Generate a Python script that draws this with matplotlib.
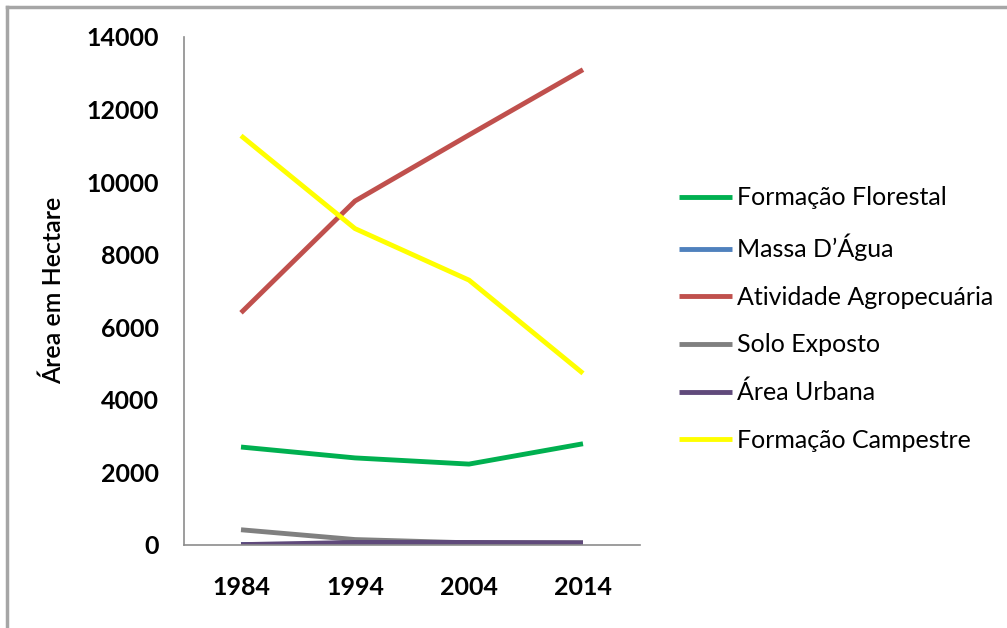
import matplotlib
matplotlib.use('Agg')
import matplotlib.pyplot as plt
from matplotlib.lines import Line2D

plt.rcParams['font.family'] = ['Lato', 'DejaVu Sans']

years = ['1984', '1994', '2004', '2014']
florestal = [2700, 2400, 2230, 2790]
massa_agua = [15, 20, 25, 25]
agropecuaria = [6400, 9480, 11300, 13100]
solo_exposto = [420, 150, 60, 60]
area_urbana = [10, 70, 70, 60]
campestre = [11280, 8720, 7300, 4730]

series = [
    ('Formação Florestal', florestal, '#00B050'),
    ('Massa D\u2019Água', massa_agua, '#4F81BD'),
    ('Atividade Agropecuária', agropecuaria, '#C0504D'),
    ('Solo Exposto', solo_exposto, '#808080'),
    ('Área Urbana', area_urbana, '#604A7B'),
    ('Formação Campestre', campestre, '#FFFF00'),
]

fig = plt.figure(figsize=(10.07, 6.28), dpi=100)
ax = fig.add_axes([184 / 1007, 1 - 545 / 628, 456 / 1007, 508 / 628])

x = list(range(len(years)))
for label, vals, color in series:
    ax.plot(x, vals, color=color, lw=3.5, label=label, solid_capstyle='butt')

ax.set_xlim(-0.5, 3.5)
ax.set_ylim(0, 14000)
ax.set_xticks(x)
ax.set_xticklabels(years)
ax.set_yticks(range(0, 14001, 2000))
ax.tick_params(axis='y', length=0, labelsize=18, pad=18)
ax.tick_params(axis='x', length=0, labelsize=18, pad=22)
for t in ax.get_xticklabels() + ax.get_yticklabels():
    t.set_fontweight('bold')
for s in ['top', 'right']:
    ax.spines[s].set_visible(False)
for s in ['left', 'bottom']:
    ax.spines[s].set_color('#8C8C8C')
    ax.spines[s].set_linewidth(1.2)

fig.text(53 / 1007, 1 - 290 / 628, 'Área em Hectare', rotation=90,
         ha='center', va='center', fontsize=18, fontweight='semibold')

leg = fig.legend(loc='center left', bbox_to_anchor=(656 / 1007, 1 - 319 / 628),
                 frameon=False, fontsize=18, handlelength=2.15, handletextpad=0.2,
                 labelspacing=0.98)

# gray frame on top and left of the picture
fig.add_artist(Line2D([7 / 1007, 7 / 1007], [0, 1 - 7 / 628], color='#A6A6A6', lw=2.5,
                      transform=fig.transFigure))
fig.add_artist(Line2D([7 / 1007, 1], [1 - 7 / 628, 1 - 7 / 628], color='#A6A6A6', lw=2.5,
                      transform=fig.transFigure))

fig.savefig('out.png', dpi=100)
